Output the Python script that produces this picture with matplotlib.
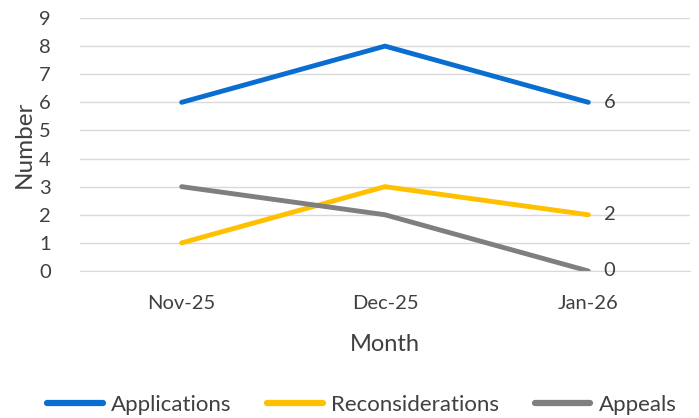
import matplotlib
matplotlib.use("Agg")
import matplotlib.pyplot as plt

months = ["Nov-25", "Dec-25", "Jan-26"]
applications = [6, 8, 6]
reconsiderations = [1, 3, 2]
appeals = [3, 2, 0]

plt.rcParams['font.family'] = ['Lato', 'DejaVu Sans']
text_color = '#404040'

fig = plt.figure(figsize=(6.99, 4.18), dpi=100)
ax = fig.add_axes([80/699, 1-271/418, 610/699, (271-18)/418])

x = list(range(len(months)))
series = [
    ("Applications", applications, '#0A6ED1'),
    ("Reconsiderations", reconsiderations, '#FFC000'),
    ("Appeals", appeals, '#7F7F7F'),
]
for name, vals, c in series:
    ax.plot(x, vals, color=c, lw=3.5, label=name, solid_capstyle='round')
    ax.annotate(str(vals[-1]), (x[-1], vals[-1]), xytext=(11, 0), textcoords='offset points',
                va='center', ha='left', fontsize=14.5, color=text_color)

ax.set_xlim(-0.5, 2.5)
ax.set_ylim(0, 9)
ax.set_yticks(range(0, 10))
ax.set_xticks(x)
ax.set_xticklabels(months)
ax.grid(axis='y', color='#D9D9D9', lw=1)
ax.set_axisbelow(True)
for s in ['top', 'right', 'left']:
    ax.spines[s].set_visible(False)
ax.spines['bottom'].set_color('#D9D9D9')
ax.tick_params(length=0, labelsize=14.5, colors=text_color)
ax.tick_params(axis='x', pad=17)
ax.tick_params(axis='y', pad=21)
ax.set_xlabel("Month", fontsize=17, color=text_color, labelpad=16)
ax.set_ylabel("Number", fontsize=17.5, color=text_color, labelpad=3)

fig.legend(loc='center', bbox_to_anchor=(362/699, 1-405/418), ncol=3, frameon=False,
           fontsize=16, handlelength=2.5, handletextpad=0.38, columnspacing=1.6,
           labelcolor=text_color)
for line in fig.legends[0].get_lines():
    line.set_linewidth(4.5)

fig.savefig("out.png", dpi=100)
